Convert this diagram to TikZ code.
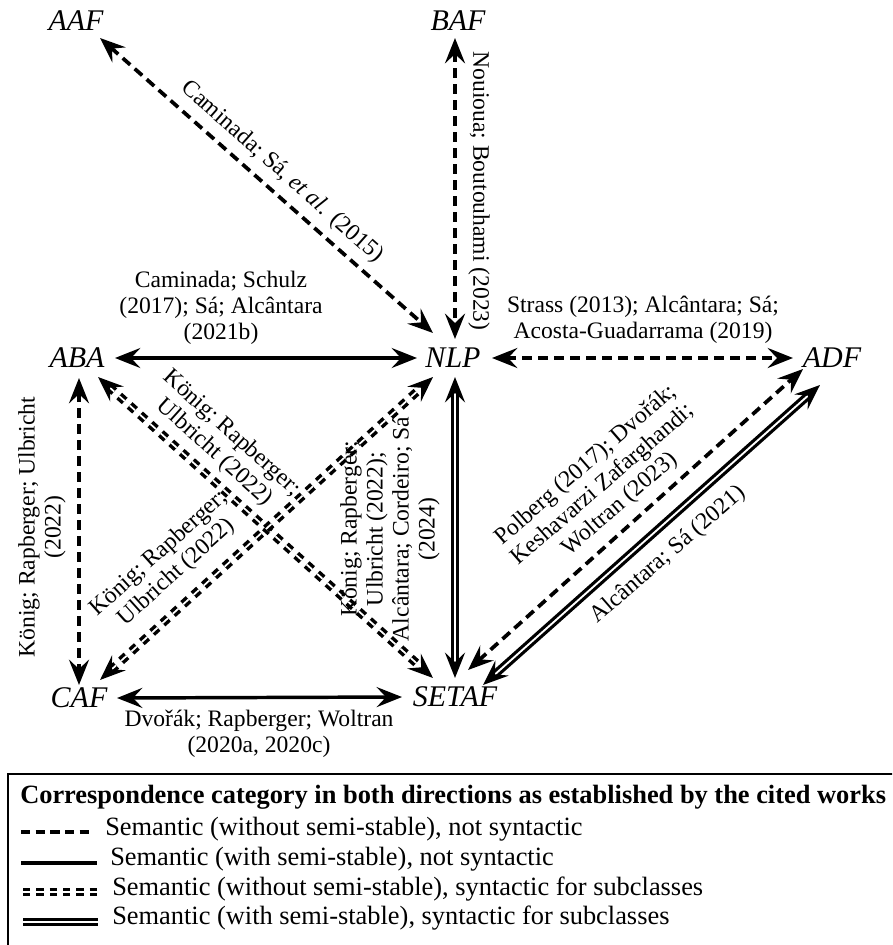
\documentclass[tikz,border=0pt]{standalone}
\usepackage{fontspec}
\setmainfont{Liberation Serif}
\usetikzlibrary{arrows.meta,calc}
\begin{document}
\begin{tikzpicture}[x=0.75pt,y=-0.75pt,
  fw/.tip={Stealth[length=19pt,width=15pt,inset=7pt]},
  fnode/.style={inner sep=0pt, font=\fontsize{22.5pt}{25pt}\selectfont\itshape},
  lbl/.style={inner sep=0pt, align=center, font=\fontsize{17.7pt}{19.5pt}\selectfont},
  legtext/.style={inner sep=0pt, anchor=base west, font=\fontsize{19.8pt}{22pt}\selectfont},
  ldash/.style={line width=2.8pt, dash pattern=on 7.5pt off 4.5pt},
  lsolid/.style={line width=2.6pt},
  lddash/.style={double, line width=2.6pt, double distance=1.3pt, dash pattern=on 5.5pt off 5pt},
  ldsolid/.style={double, line width=2.4pt, double distance=1.4pt},
  both/.style={fw-fw}
]
\useasboundingbox (0,0) rectangle (892,945);

% nodes
\node[fnode] (AAF) at (76,21) {AAF};
\node[fnode] (BAF) at (458,21) {BAF};
\node[fnode] (ABA) at (77,358) {ABA};
\node[fnode] (NLP) at (453,358) {NLP};
\node[fnode] (ADF) at (832,358) {ADF};
\node[fnode] (CAF) at (79,698) {CAF};
\node[fnode] (SETAF) at (455,697) {SETAF};

% connectors
\draw[ldash,both] ($(AAF)+(24,17)$) -- ($(NLP)+(-20,-25)$);
\draw[ldash,both] ($(BAF)+(-3,17)$) -- ($(NLP)+(2,-19)$);
\draw[lsolid,both] ($(ABA)+(38,0)$) -- ($(NLP)+(-36,0)$);
\draw[ldash,both] ($(NLP)+(39,0)$) -- ($(ADF)+(-39,0)$);
\draw[ldash,both] ($(ABA)+(2,20)$) -- ($(CAF)+(0,-13)$);
\draw[lddash,both] ($(ABA)+(21,19)$) -- ($(SETAF)+(-22,-19)$);
\draw[lddash,both] ($(CAF)+(21,-18)$) -- ($(NLP)+(-20,19)$);
\draw[ldsolid,both] ($(NLP)+(2,19)$) -- ($(SETAF)+(0,-19)$);
\draw[ldash,both] ($(SETAF)+(13,-27)$) -- ($(ADF)+(-29,11)$);
\draw[ldsolid,both] ($(SETAF)+(28,-12)$) -- ($(ADF)+(-12,27)$);
\draw[lsolid,both] ($(CAF)+(38,0)$) -- ($(SETAF)+(-53,0)$);

% labels
\node[lbl, rotate=-41.5] (l1) at (282,172) {Caminada; Sá, \textit{et al.} (2015)};
\node[lbl, rotate=-90] (l2) at (479,191) {Nouioua; Boutouhami (2023)};
\node[lbl] (l3) at (221,308) {Caminada; Schulz\\(2017); Sá; Alcântara\\(2021b)};
\node[lbl] (l4) at (643,320) {Strass (2013); Alcântara; Sá;\\Acosta-Guadarrama (2019)};
\node[lbl, rotate=90] (l5) at (42,527) {König; Rapberger; Ulbricht\\(2022)};
\node[lbl, rotate=-42] (l6) at (223,443) {König; Rapberger;\\Ulbricht (2022)};
\node[lbl, rotate=42] (l7) at (168,563) {König; Rapberger;\\Ulbricht (2022)};
\node[lbl, rotate=90] (l8) at (390,529) {König; Rapberger;\\Ulbricht (2022);\\Alcântara; Cordeiro; Sá\\(2024)};
\node[lbl, rotate=41] (l9) at (603,485) {Polberg (2017); Dvořák;\\Keshavarzi Zafarghandi;\\Woltran (2023)};
\node[lbl, rotate=41] (l10) at (668,555) {Alcântara; Sá (2021)};
\node[lbl] (l11) at (259,734) {Dvořák; Rapberger; Woltran\\(2020a, 2020c)};

% legend
\begin{scope}
\clip (0,0) rectangle (892,945);
\draw[line width=2pt] (8,960) -- (8,774) -- (900,774);
\end{scope}
\node[legtext] (lt) at (20,803) {\bfseries Correspondence category in both directions as established by the cited works};
\draw[line width=2.8pt, dash pattern=on 7pt off 4pt] (21,832) -- (90,832);
\node[legtext] (r1) at (105,835) {Semantic (without semi-stable), not syntactic};
\draw[line width=2.8pt] (21,863) -- (97,863);
\node[legtext] (r2) at (110,865) {Semantic (with semi-stable), not syntactic};
\draw[double, line width=2.6pt, double distance=1.3pt, dash pattern=on 5.5pt off 4.5pt] (23,892) -- (97,892);
\node[legtext] (r3) at (112,895) {Semantic (without semi-stable), syntactic for subclasses};
\draw[ldsolid] (23,922) -- (98,922);
\node[legtext] (r4) at (112,924) {Semantic (with semi-stable), syntactic for subclasses};
\end{tikzpicture}
\end{document}
